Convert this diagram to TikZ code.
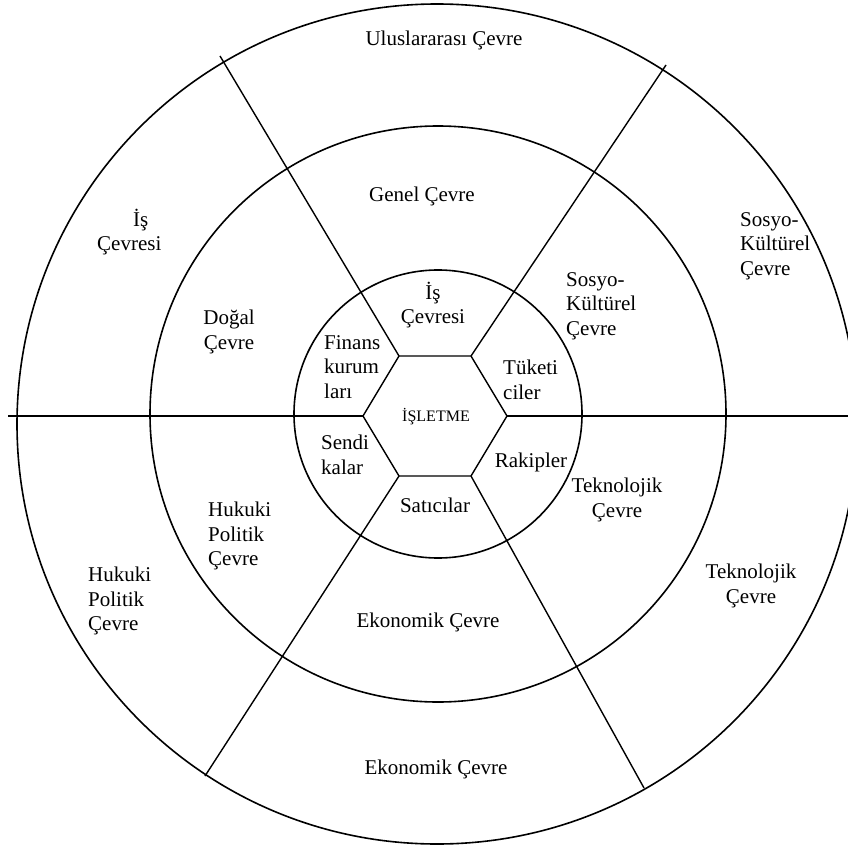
\documentclass[tikz,border=0pt]{standalone}
\usepackage{fontspec}
\setmainfont{Liberation Serif}
\usetikzlibrary{positioning}

\begin{document}
\begin{tikzpicture}[
  x=1pt, y=-1pt,
  ring/.style={line width=1.6pt},
  edge/.style={line width=1.4pt},
  lbl/.style={font=\fontsize{21}{24.5}\selectfont, align=center, inner sep=0pt},
  lbll/.style={lbl, align=left, anchor=west}
]
  \useasboundingbox (0,0) rectangle (848,845);

  % rings
  \draw[ring] (438,414) circle (144pt);
  \draw[ring] (438,414) circle (288pt);
  \draw[ring] (437,424) circle (420pt);

  % hexagon corners
  \coordinate (hl) at (363,416);
  \coordinate (hul) at (399,356);
  \coordinate (hur) at (471,356);
  \coordinate (hr) at (507,416);
  \coordinate (hlr) at (471,476);
  \coordinate (hll) at (399,476);
  % outer ends
  \coordinate (ol) at (8,416);
  \coordinate (or) at (850,416);
  \coordinate (oul) at (220,56);
  \coordinate (our) at (666,65);
  \coordinate (oll) at (205,776);
  \coordinate (olr) at (644,788);

  \draw[edge] (hl) -- (hul) -- (hur) -- (hr) -- (hlr) -- (hll) -- cycle;
  \draw[edge] (hl) -- (ol);
  \draw[edge] (hr) -- (or);
  \draw[edge] (hul) -- (oul);
  \draw[edge] (hur) -- (our);
  \draw[edge] (hll) -- (oll);
  \draw[edge] (hlr) -- (olr);

  \node[lbl, font=\fontsize{16}{19}\selectfont] (isletme) at (436,417) {İŞLETME};

  % inner ring
  \node[lbl] (isin) at (433,305) {İş\\Çevresi};
  \node[lbll] (tuketi) at (503,380) {Tüketi\\ciler};
  \node[lbll] (finans) at (324,367) {Finans\\kurum\\ları};
  \node[lbll] (sendi) at (321,455) {Sendi\\kalar};
  \node[lbl] (rakip) at (531,462) {Rakipler};
  \node[lbl] (satici) at (435,505) {Satıcılar};

  % middle ring
  \node[lbl] (genel) at (422,196) {Genel Çevre};
  \node[lbl] (dogal) at (229,332) {Doğal\\Çevre};
  \node[lbll] (sosmid) at (566,306) {Sosyo-\\Kültürel\\Çevre};
  \node[lbll] (hukmid) at (208,536) {Hukuki\\Politik\\Çevre};
  \node[lbl] (teknmid) at (617,500) {Teknolojik\\Çevre};
  \node[lbl] (ekonmid) at (428,622) {Ekonomik Çevre};

  % outer ring
  \node[lbl] (uluslar) at (444,40) {Uluslararası Çevre};
  \node[lbll] (isout) at (97,232) {\hspace*{36pt}İş\\Çevresi};
  \node[lbll] (sosout) at (740,246) {Sosyo-\\Kültürel\\Çevre};
  \node[lbll] (hukout) at (88,601) {Hukuki\\Politik\\Çevre};
  \node[lbl] (teknout) at (751,586) {Teknolojik\\Çevre};
  \node[lbl] (ekonout) at (436,769) {Ekonomik Çevre};
\end{tikzpicture}
\end{document}
